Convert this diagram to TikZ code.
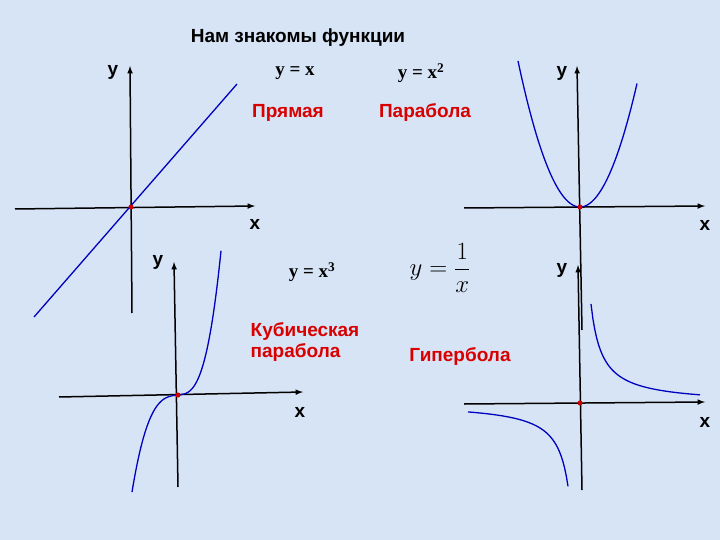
\documentclass[tikz,border=0pt]{standalone}
\usepackage{fontspec}
\setmainfont{Liberation Serif}
\newfontfamily\lsans{Liberation Sans}
\definecolor{bg}{RGB}{214,228,246}
\begin{document}
\begin{tikzpicture}[x=1pt,y=-1pt,
  ax/.style={black,line width=1.5pt,-latex},
  crv/.style={blue!75!black,line width=1.3pt},
  dot/.style={circle,fill=red!80!black,inner sep=1.8pt},
  lbl/.style={font=\lsans\bfseries\fontsize{19}{19}\selectfont},
  red/.style={font=\lsans\bfseries\fontsize{19}{21}\selectfont,text=red!85!black},
  frm/.style={font=\bfseries\fontsize{19}{19}\selectfont}]
\fill[bg] (0,0) rectangle (720,540);
\useasboundingbox (0,0) rectangle (720,540);
\node[font=\lsans\bfseries\fontsize{19}{19}\selectfont] (title) at (298,38) {Нам знакомы функции};
% graph 1
\coordinate (o1) at (131,207);
\coordinate (x1a) at (15,209); \coordinate (x1b) at (255,206);
\coordinate (y1a) at (132,313); \coordinate (y1b) at (130,66);
\draw[ax] (x1a) -- (x1b); \draw[ax] (y1a) -- (y1b);
\coordinate (l1a) at (34,317); \coordinate (l1b) at (237,84);
\draw[crv] (l1a) -- (l1b);
\node[dot] (d1) at (o1) {};
\node[lbl] (y1) at (113,72) {y}; \node[lbl] (xl1) at (255,224) {x};
% graph 2
\coordinate (o2) at (580,207);
\draw[ax] (464,208) -- (705,206); \draw[ax] (582,330) -- (577,66);
\draw[crv,domain=-62:57,samples=60] plot ({580+\x},{207-0.038*\x*\x});
\node[dot] (d2) at (o2) {};
\node[lbl] (y2) at (562,73) {y}; \node[lbl] (xl2) at (705,225) {x};
% graph 3
\coordinate (o3) at (178,395);
\draw[ax] (59,397) -- (303,392);
\draw[ax] (178,487) -- (174,262);
\draw[crv,domain=0:4.3,samples=50] plot ({178+10*\x},{395-1.76*\x*\x*\x-\x});
\draw[crv,domain=-4.6:0,samples=50] plot ({178+10*\x},{395-0.95*\x*\x*\x-\x});
\node[dot] (d3) at (o3) {};
\node[lbl] (y3) at (158,262) {y}; \node[lbl] (xl3) at (300,412) {x};
% graph 4
\coordinate (o4) at (580,403);
\draw[ax] (464,404) -- (705,402); \draw[ax] (582,490) -- (578,265);
\draw[crv,domain=11:120,samples=60] plot ({580+\x},{403-1100/\x+1});
\draw[crv,domain=-112:-12,samples=60] plot ({580+\x},{403-1000/\x});
\node[dot] (d4) at (o4) {};
\node[lbl] (y4) at (562,270) {y}; \node[lbl] (xl4) at (705,422) {x};
% labels
\node[frm] (f1) at (295,73) {y = x};
\node[frm] (f2) at (421,73) {y = x\textsuperscript{2}};
\node[red] (n1) at (288,113) {Прямая};
\node[red] (n2) at (425,113) {Парабола};
\node[frm] (f3) at (312,272) {y = x\textsuperscript{3}};
\node (f4) at (440,268) {\fontsize{30}{30}\selectfont$\displaystyle y=\frac{1}{x}$};
\node[red,align=left] (n3) at (305,342) {Кубическая\\парабола};
\node[red] (n4) at (460,357) {Гипербола};
\end{tikzpicture}
\end{document}
